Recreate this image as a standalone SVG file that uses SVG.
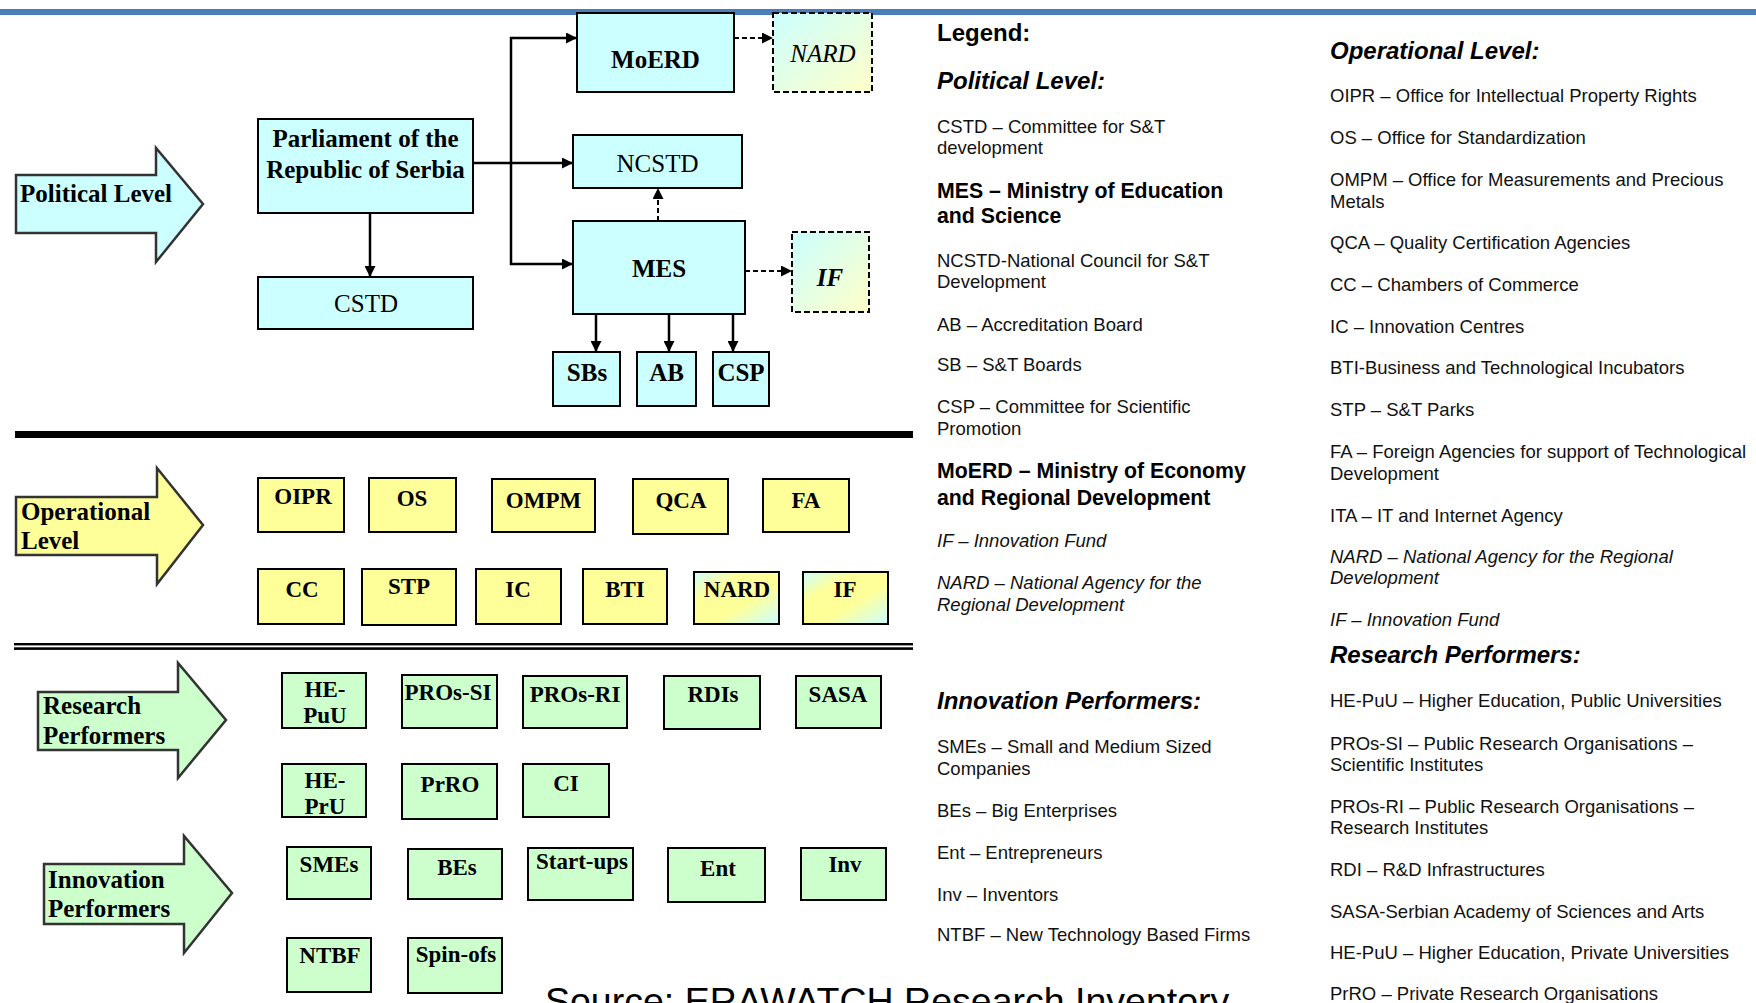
<svg xmlns="http://www.w3.org/2000/svg" width="1756" height="1003" viewBox="0 0 1756 1003">
<style>
.bx{stroke:#000;stroke-width:2}
.cy{fill:#ccffff}
.ye{fill:#ffff99}
.gr{fill:#ccffcc}
.dsh{stroke:#000;stroke-width:2;stroke-dasharray:6 3}
.blk{stroke:#333;stroke-width:2.5;stroke-linejoin:miter}
.lbl{font-family:"Liberation Serif","Times New Roman",serif;font-weight:bold;font-size:23px;fill:#000;text-anchor:middle}
.big{font-size:25px}
.reg{font-weight:normal}
.it{font-style:italic}
.al{font-family:"Liberation Serif","Times New Roman",serif;font-weight:bold;font-size:25px;fill:#000}
.lg{font-family:"Liberation Sans",Arial,sans-serif;font-size:18.5px;fill:#111}
.lgb{font-family:"Liberation Sans",Arial,sans-serif;font-weight:bold;fill:#000}
.lgh{font-family:"Liberation Sans",Arial,sans-serif;font-weight:bold;font-style:italic;fill:#000}
.lgi{font-style:italic}
.con{stroke:#000;stroke-width:2.5;fill:none}
.cond{stroke:#000;stroke-width:2;fill:none;stroke-dasharray:5 3}
</style>
<defs>
<marker id="ah" markerUnits="userSpaceOnUse" markerWidth="11" markerHeight="11" refX="11" refY="5.5" orient="auto">
<path d="M0,0 L11,5.5 L0,11 z" fill="#000"/>
</marker>
<linearGradient id="gPol" x1="0" y1="0" x2="1" y2="1">
<stop offset="0" stop-color="#ccffff"/>
<stop offset="1" stop-color="#ffffc8"/>
</linearGradient>
<linearGradient id="gOp" x1="0" y1="0" x2="1" y2="1">
<stop offset="0" stop-color="#ccffff"/>
<stop offset="0.3" stop-color="#ffff99"/>
<stop offset="0.6" stop-color="#ffff99"/>
<stop offset="1" stop-color="#ccffff"/>
</linearGradient>
<clipPath id="clipPrU"><rect x="283" y="765" width="82" height="49"/></clipPath>
</defs>

<rect x="0" y="9" width="1756" height="6" fill="#4a7ebb"/>

<!-- separators -->
<rect x="15" y="431" width="898" height="7" fill="#000"/>
<rect x="14" y="643" width="899" height="2.4" fill="#000"/>
<rect x="14" y="647.3" width="899" height="2.6" fill="#000"/>

<!-- level arrows -->
<g id="arrow-political">
<polygon class="blk cy" points="16,175 156,175 156,148 203,204 156,262 156,233 16,233"/>
<text class="al" x="20" y="202">Political Level</text>
</g>
<g id="arrow-operational">
<polygon class="blk ye" points="16,497 157,497 157,468 203,525 157,584 157,555 16,555"/>
<text class="al" x="21" y="520">Operational</text>
<text class="al" x="21" y="549">Level</text>
</g>
<g id="arrow-research">
<polygon class="blk gr" points="38,692 178,692 178,663 226,720 178,778 178,750 38,750"/>
<text class="al" x="43" y="714">Research</text>
<text class="al" x="43" y="744">Performers</text>
</g>
<g id="arrow-innovation">
<polygon class="blk gr" points="44,864 184,864 184,836 232,893 184,953 184,924 44,924"/>
<text class="al" x="48" y="888">Innovation</text>
<text class="al" x="48" y="917">Performers</text>
</g>

<!-- connectors -->
<g id="connectors">
<path class="con" d="M370,213 V277" marker-end="url(#ah)"/>
<path class="con" d="M473,163 H573" marker-end="url(#ah)"/>
<path class="con" d="M511,163 V38 H577" marker-end="url(#ah)"/>
<path class="con" d="M511,163 V264 H573" marker-end="url(#ah)"/>
<path class="cond" d="M658,221 V188" marker-end="url(#ah)"/>
<path class="cond" d="M734,38 H773" marker-end="url(#ah)"/>
<path class="cond" d="M745,271 H792" marker-end="url(#ah)"/>
<path class="con" d="M596,314 V352" marker-end="url(#ah)"/>
<path class="con" d="M669,314 V352" marker-end="url(#ah)"/>
<path class="con" d="M733,314 V352" marker-end="url(#ah)"/>
</g>

<!-- political level nodes -->
<g id="node-parliament">
<rect class="bx cy" x="258" y="119" width="215" height="94"/>
<text class="lbl big" x="365.5" y="147">Parliament of the</text>
<text class="lbl big" x="365.5" y="178">Republic of Serbia</text>
</g>
<g id="node-cstd">
<rect class="bx cy" x="258" y="277" width="215" height="52"/>
<text class="lbl big reg" x="366" y="312">CSTD</text>
</g>
<g id="node-moerd">
<rect class="bx cy" x="577" y="13" width="157" height="79"/>
<text class="lbl big" x="655.5" y="68">MoERD</text>
</g>
<g id="node-nard-pol">
<rect class="dsh" fill="url(#gPol)" x="773" y="13" width="99" height="79"/>
<text class="lbl big reg it" x="823" y="62">NARD</text>
</g>
<g id="node-ncstd">
<rect class="bx cy" x="573" y="135" width="169" height="53"/>
<text class="lbl big reg" x="657.5" y="172">NCSTD</text>
</g>
<g id="node-mes">
<rect class="bx cy" x="573" y="221" width="172" height="93"/>
<text class="lbl big" x="659" y="277">MES</text>
</g>
<g id="node-if-pol">
<rect class="dsh" fill="url(#gPol)" x="792" y="232" width="77" height="80"/>
<text class="lbl big it" x="830" y="286">IF</text>
</g>
<g id="node-sbs">
<rect class="bx cy" x="553" y="352" width="67" height="54"/>
<text class="lbl big" x="587" y="381">SBs</text>
</g>
<g id="node-ab">
<rect class="bx cy" x="637" y="352" width="59" height="54"/>
<text class="lbl big" x="666.5" y="381">AB</text>
</g>
<g id="node-csp">
<rect class="bx cy" x="713" y="352" width="56" height="54"/>
<text class="lbl big" x="741" y="381">CSP</text>
</g>

<!-- operational level nodes -->
<g id="node-oipr"><rect class="bx ye" x="258" y="478" width="86" height="54"/><text class="lbl" x="303" y="504">OIPR</text></g>
<g id="node-os"><rect class="bx ye" x="369" y="478" width="87" height="54"/><text class="lbl" x="412" y="506">OS</text></g>
<g id="node-ompm"><rect class="bx ye" x="492" y="479" width="103" height="53"/><text class="lbl" x="543.5" y="508">OMPM</text></g>
<g id="node-qca"><rect class="bx ye" x="633" y="479" width="95" height="55"/><text class="lbl" x="681" y="508">QCA</text></g>
<g id="node-fa"><rect class="bx ye" x="763" y="479" width="86" height="53"/><text class="lbl" x="806" y="508">FA</text></g>
<g id="node-cc"><rect class="bx ye" x="258" y="569" width="86" height="55"/><text class="lbl" x="302" y="597">CC</text></g>
<g id="node-stp"><rect class="bx ye" x="362" y="569" width="94" height="56"/><text class="lbl" x="409" y="594">STP</text></g>
<g id="node-ic"><rect class="bx ye" x="476" y="569" width="85" height="55"/><text class="lbl" x="518" y="597">IC</text></g>
<g id="node-bti"><rect class="bx ye" x="583" y="569" width="84" height="55"/><text class="lbl" x="625" y="597">BTI</text></g>
<g id="node-nard-op"><rect class="bx" fill="url(#gOp)" x="694" y="572" width="85" height="52"/><text class="lbl" x="737" y="597">NARD</text></g>
<g id="node-if-op"><rect class="bx" fill="url(#gOp)" x="803" y="572" width="85" height="52"/><text class="lbl" x="845" y="597">IF</text></g>

<!-- research performers -->
<g id="node-he-puu"><rect class="bx gr" x="282" y="673" width="84" height="55"/><text class="lbl" x="325" y="697">HE-</text><text class="lbl" x="325" y="723">PuU</text></g>
<g id="node-pros-si"><rect class="bx gr" x="402" y="675" width="95" height="53"/><text class="lbl" x="448" y="700">PROs-SI</text></g>
<g id="node-pros-ri"><rect class="bx gr" x="523" y="676" width="104" height="52"/><text class="lbl" x="575" y="702">PROs-RI</text></g>
<g id="node-rdis"><rect class="bx gr" x="664" y="676" width="96" height="53"/><text class="lbl" x="713" y="702">RDIs</text></g>
<g id="node-sasa"><rect class="bx gr" x="796" y="676" width="85" height="52"/><text class="lbl" x="838" y="702">SASA</text></g>
<g id="node-he-pru"><rect class="bx gr" x="282" y="764" width="84" height="53"/><g clip-path="url(#clipPrU)"><text class="lbl" x="325" y="788">HE-</text><text class="lbl" x="325" y="814">PrU</text></g></g>
<g id="node-prro"><rect class="bx gr" x="402" y="764" width="95" height="55"/><text class="lbl" x="450" y="792">PrRO</text></g>
<g id="node-ci"><rect class="bx gr" x="523" y="764" width="86" height="53"/><text class="lbl" x="566" y="791">CI</text></g>

<!-- innovation performers -->
<g id="node-smes"><rect class="bx gr" x="287" y="847" width="84" height="52"/><text class="lbl" x="329" y="872">SMEs</text></g>
<g id="node-bes"><rect class="bx gr" x="408" y="849" width="94" height="50"/><text class="lbl" x="457" y="875">BEs</text></g>
<g id="node-startups"><rect class="bx gr" x="528" y="848" width="105" height="52"/><text class="lbl" x="582" y="869">Start-ups</text></g>
<g id="node-ent"><rect class="bx gr" x="668" y="848" width="97" height="54"/><text class="lbl" x="718" y="876">Ent</text></g>
<g id="node-inv"><rect class="bx gr" x="801" y="848" width="85" height="52"/><text class="lbl" x="845" y="872">Inv</text></g>
<g id="node-ntbf"><rect class="bx gr" x="287" y="938" width="84" height="54"/><text class="lbl" x="330" y="963">NTBF</text></g>
<g id="node-spinofs"><rect class="bx gr" x="408" y="938" width="94" height="55"/><text class="lbl" x="456" y="962">Spin-ofs</text></g>

<text x="545" y="1014" font-family="'Liberation Sans',Arial,sans-serif" font-size="37.5" fill="#000">Source: ERAWATCH Research Inventory</text>

<!-- legend column 1 -->
<g id="legend-col1">
<text class="lgb" x="937" y="41" font-size="24">Legend:</text>
<text class="lgh" x="937" y="89" font-size="24">Political Level:</text>
<text class="lg" x="937" y="133">CSTD – Committee for S&amp;T</text>
<text class="lg" x="937" y="154">development</text>
<text class="lgb" x="937" y="198" font-size="21.3">MES – Ministry of Education</text>
<text class="lgb" x="937" y="223" font-size="21.3">and Science</text>
<text class="lg" x="937" y="267">NCSTD-National Council for S&amp;T</text>
<text class="lg" x="937" y="288">Development</text>
<text class="lg" x="937" y="331">AB – Accreditation Board</text>
<text class="lg" x="937" y="371">SB – S&amp;T Boards</text>
<text class="lg" x="937" y="413">CSP – Committee for Scientific</text>
<text class="lg" x="937" y="435">Promotion</text>
<text class="lgb" x="937" y="478" font-size="21.3">MoERD – Ministry of Economy</text>
<text class="lgb" x="937" y="505" font-size="21.3">and Regional Development</text>
<text class="lg lgi" x="937" y="547">IF – Innovation Fund</text>
<text class="lg lgi" x="937" y="589">NARD – National Agency for the</text>
<text class="lg lgi" x="937" y="611">Regional Development</text>
<text class="lgh" x="937" y="709" font-size="24">Innovation Performers:</text>
<text class="lg" x="937" y="753">SMEs – Small and Medium Sized</text>
<text class="lg" x="937" y="775">Companies</text>
<text class="lg" x="937" y="817">BEs – Big Enterprises</text>
<text class="lg" x="937" y="859">Ent – Entrepreneurs</text>
<text class="lg" x="937" y="901">Inv – Inventors</text>
<text class="lg" x="937" y="941">NTBF – New Technology Based Firms</text>
</g>

<!-- legend column 2 -->
<g id="legend-col2">
<text class="lgh" x="1330" y="59" font-size="24">Operational Level:</text>
<text class="lg" x="1330" y="102">OIPR – Office for Intellectual Property Rights</text>
<text class="lg" x="1330" y="144">OS – Office for Standardization</text>
<text class="lg" x="1330" y="186">OMPM – Office for Measurements and Precious</text>
<text class="lg" x="1330" y="208">Metals</text>
<text class="lg" x="1330" y="249">QCA – Quality Certification Agencies</text>
<text class="lg" x="1330" y="291">CC – Chambers of Commerce</text>
<text class="lg" x="1330" y="333">IC – Innovation Centres</text>
<text class="lg" x="1330" y="374">BTI-Business and Technological Incubators</text>
<text class="lg" x="1330" y="416">STP – S&amp;T Parks</text>
<text class="lg" x="1330" y="458">FA – Foreign Agencies for support of Technological</text>
<text class="lg" x="1330" y="480">Development</text>
<text class="lg" x="1330" y="522">ITA – IT and Internet Agency</text>
<text class="lg lgi" x="1330" y="563">NARD – National Agency for the Regional</text>
<text class="lg lgi" x="1330" y="584">Development</text>
<text class="lg lgi" x="1330" y="626">IF – Innovation Fund</text>
<text class="lgh" x="1330" y="663" font-size="24">Research Performers:</text>
<text class="lg" x="1330" y="707">HE-PuU – Higher Education, Public Universities</text>
<text class="lg" x="1330" y="750">PROs-SI – Public Research Organisations –</text>
<text class="lg" x="1330" y="771">Scientific Institutes</text>
<text class="lg" x="1330" y="813">PROs-RI – Public Research Organisations –</text>
<text class="lg" x="1330" y="834">Research Institutes</text>
<text class="lg" x="1330" y="876">RDI – R&amp;D Infrastructures</text>
<text class="lg" x="1330" y="918">SASA-Serbian Academy of Sciences and Arts</text>
<text class="lg" x="1330" y="959">HE-PuU – Higher Education, Private Universities</text>
<text class="lg" x="1330" y="1000">PrRO – Private Research Organisations</text>
</g>
</svg>
